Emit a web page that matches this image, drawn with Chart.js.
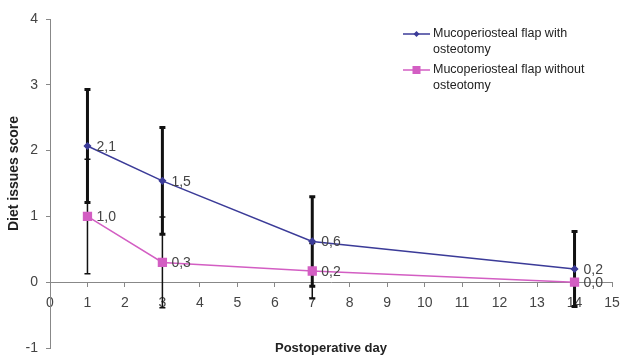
<!DOCTYPE html>
<html>
<head>
<meta charset="utf-8">
<script src="https://cdn.jsdelivr.net/npm/chart.js@4/dist/chart.umd.min.js"></script>
<style>
  html, body { margin: 0; padding: 0; background: #ffffff; }
  #wrap { width: 621px; height: 356px; }
</style>
</head>
<body>
<div id="wrap"><canvas id="c" width="621" height="356"></canvas></div>
<script>
// ---- data ----
const days = [1, 3, 7, 14];
const seriesNames = [
  ["Mucoperiosteal flap with", "osteotomy"],
  ["Mucoperiosteal flap without", "osteotomy"]
];
const withOsteotomy = [2.07, 1.54, 0.62, 0.20];
const withOsteotomyErr = [0.86, 0.81, 0.68, 0.57];
const withoutOsteotomy = [1.00, 0.30, 0.17, 0.00];
const withoutOsteotomyErr = [0.87, 0.69, 0.42, 0.00];
const xTitle = "Postoperative day";
const yTitle = "Diet issues score";

const FONT = "'Liberation Sans', Arial, sans-serif";
const BLUE = '#3b3b98';
const PINK = '#d35ec3';

const errors = [withOsteotomyErr, withoutOsteotomyErr];
const errWidths = [3, 1.5];

const toPts = (vals) => days.map((d, i) => ({ x: d, y: vals[i] }));

const errorBars = {
  id: 'errorBars',
  beforeDatasetsDraw(chart) {
    const { ctx, scales: { x, y } } = chart;
    ctx.save();
    ctx.strokeStyle = '#111111';
    chart.data.datasets.forEach((ds, di) => {
      const err = errors[di];
      ctx.lineWidth = errWidths[di];
      ds.data.forEach((p, j) => {
        const e = err[j];
        if (!e) return;
        const px = x.getPixelForValue(p.x);
        const top = y.getPixelForValue(p.y + e);
        const bot = y.getPixelForValue(p.y - e);
        ctx.beginPath();
        ctx.moveTo(px, top); ctx.lineTo(px, bot);
        ctx.moveTo(px - 3, top); ctx.lineTo(px + 3, top);
        ctx.moveTo(px - 3, bot); ctx.lineTo(px + 3, bot);
        ctx.stroke();
      });
    });
    ctx.restore();
  }
};

const valueLabels = {
  id: 'valueLabels',
  afterDatasetsDraw(chart) {
    const { ctx } = chart;
    ctx.save();
    ctx.font = '14px ' + FONT;
    ctx.fillStyle = '#444444';
    ctx.textAlign = 'left';
    ctx.textBaseline = 'middle';
    chart.data.datasets.forEach((ds, di) => {
      const meta = chart.getDatasetMeta(di);
      meta.data.forEach((el, j) => {
        const txt = ds.data[j].y.toFixed(1).replace('.', ',');
        ctx.fillText(txt, el.x + 9, el.y + 1);
      });
    });
    ctx.restore();
  }
};

const yAxisTitle = {
  id: 'yAxisTitle',
  afterDraw(chart) {
    const { ctx, chartArea } = chart;
    ctx.save();
    ctx.translate(14, (chartArea.top + chartArea.bottom) / 2 - 10);
    ctx.rotate(-Math.PI / 2);
    ctx.font = 'bold 14px ' + FONT;
    ctx.fillStyle = '#222222';
    ctx.textAlign = 'center';
    ctx.textBaseline = 'middle';
    ctx.fillText(yTitle, 0, 0);
    ctx.restore();
  }
};

const customLegend = {
  id: 'customLegend',
  afterDraw(chart) {
    const { ctx } = chart;
    const x0 = chart.width - 218;
    const rows = [34, 70];
    ctx.save();
    chart.data.datasets.forEach((ds, di) => {
      const y = rows[di];
      ctx.strokeStyle = ds.borderColor;
      ctx.lineWidth = 1.5;
      ctx.beginPath();
      ctx.moveTo(x0, y); ctx.lineTo(x0 + 27, y);
      ctx.stroke();
      ctx.fillStyle = ds.backgroundColor;
      const cx = x0 + 13.5;
      if (ds.pointStyle === 'rectRot') {
        ctx.beginPath();
        ctx.moveTo(cx, y - 3); ctx.lineTo(cx + 3, y); ctx.lineTo(cx, y + 3); ctx.lineTo(cx - 3, y);
        ctx.closePath(); ctx.fill();
      } else {
        ctx.fillRect(cx - 4, y - 4, 8, 8);
      }
      ctx.fillStyle = '#222222';
      ctx.font = '12.5px ' + FONT;
      ctx.textAlign = 'left';
      ctx.textBaseline = 'middle';
      seriesNames[di].forEach((line, k) => ctx.fillText(line, x0 + 30, y + k * 16));
    });
    ctx.restore();
  }
};

new Chart(document.getElementById('c'), {
  type: 'line',
  data: {
    datasets: [
      {
        label: seriesNames[0].join(' '),
        data: toPts(withOsteotomy),
        borderColor: BLUE,
        backgroundColor: BLUE,
        borderWidth: 1.5,
        pointStyle: 'rectRot',
        pointRadius: 3,
        pointHoverRadius: 3,
        tension: 0
      },
      {
        label: seriesNames[1].join(' '),
        data: toPts(withoutOsteotomy),
        borderColor: PINK,
        backgroundColor: PINK,
        borderWidth: 1.5,
        pointStyle: 'rect',
        pointRadius: 5.5,
        pointHoverRadius: 5.5,
        tension: 0
      }
    ]
  },
  options: {
    responsive: false,
    animation: false,
    devicePixelRatio: 1,
    layout: { padding: { top: 19, right: 9, bottom: 8, left: 0 } },
    plugins: { legend: { display: false }, tooltip: { enabled: false } },
    scales: {
      x: {
        type: 'linear',
        min: 0, max: 15,
        position: { y: 0 },
        afterFit(scale) { scale.paddingLeft = 0; scale.paddingRight = 0; },
        ticks: { stepSize: 1, color: '#444444', font: { family: FONT, size: 14 }, padding: 9, maxRotation: 0, autoSkip: false },
        grid: { drawOnChartArea: false, drawTicks: true, tickLength: 4, color: '#888888' },
        border: { color: '#888888', width: 1 },
        title: { display: true, text: xTitle, color: '#222222', font: { family: FONT, size: 13, weight: 'bold' }, padding: { top: 20, bottom: 0 } }
      },
      y: {
        type: 'linear',
        min: -1, max: 4,
        position: 'left',
        afterFit(scale) { scale.width = 50; scale.paddingTop = 0; scale.paddingBottom = 0; },
        ticks: { stepSize: 1, color: '#444444', font: { family: FONT, size: 14 }, padding: 8 },
        grid: { drawOnChartArea: false, drawTicks: true, tickLength: 4, color: '#888888' },
        border: { color: '#888888', width: 1 },
        title: { display: false }
      }
    }
  },
  plugins: [errorBars, valueLabels, yAxisTitle, customLegend]
});
</script>
</body>
</html>
